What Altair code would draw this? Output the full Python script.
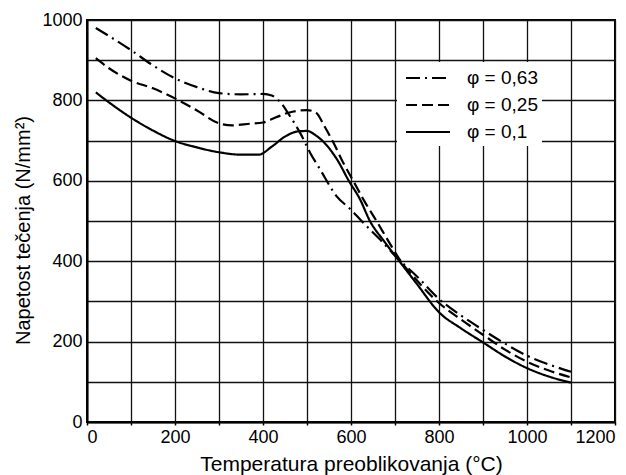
import altair as alt
import pandas as pd

# Temperature (°C) and yield stress (N/mm²)
temp_063 = [20, 50, 100, 150, 200, 250, 300, 350, 400, 420, 440, 460, 485, 507, 530, 567, 600, 624, 665, 705, 750, 800, 850, 900, 950, 1000, 1050, 1100]
val_063 = [980, 960, 925, 887, 855, 833, 818, 815, 816, 812, 795, 763, 718, 670, 628, 562, 528, 500, 455, 408, 362, 306, 265, 229, 195, 165, 143, 125]

temp_025 = [20, 50, 100, 150, 200, 250, 300, 330, 370, 400, 430, 460, 500, 520, 540, 560, 580, 605, 630, 658, 685, 712, 750, 800, 850, 900, 950, 1000, 1050, 1100]
val_025 = [905, 880, 849, 830, 805, 775, 743, 738, 742, 745, 758, 770, 776, 770, 735, 695, 650, 600, 550, 500, 450, 402, 352, 296, 255, 217, 180, 150, 128, 111]

temp_01 = [20, 50, 100, 150, 200, 250, 300, 350, 390, 420, 450, 480, 500, 520, 545, 570, 595, 620, 643, 675, 710, 750, 800, 850, 900, 950, 1000, 1050, 1100]
val_01 = [820, 795, 757, 725, 699, 683, 671, 665, 665, 685, 710, 723, 724, 713, 688, 650, 600, 555, 500, 450, 400, 343, 273, 233, 198, 163, 134, 113, 98]

series_names = ["φ = 0,63", "φ = 0,25", "φ = 0,1"]
x_ticks = list(range(0, 1201, 100))
y_ticks = list(range(0, 1001, 100))

rows = []
for name, xs, ys in zip(series_names, [temp_063, temp_025, temp_01], [val_063, val_025, val_01]):
    for x, y in zip(xs, ys):
        rows.append({"T": x, "sigma": y, "phi": name})
df = pd.DataFrame(rows)

FONT = "Liberation Sans"

chart = alt.Chart(df).mark_line(
    color="black", strokeWidth=2.2, interpolate="monotone"
).encode(
    x=alt.X("T:Q",
            scale=alt.Scale(domain=[0, 1200], nice=False, zero=False),
            axis=alt.Axis(values=x_ticks,
                          labelExpr="datum.value % 200 == 0 ? datum.label : ''",
                          format="d",
                          title="Temperatura preoblikovanja (°C)",
                          titleFontSize=21,
                          tickSize=3, labelPadding=3, titlePadding=7)),
    y=alt.Y("sigma:Q",
            scale=alt.Scale(domain=[0, 1000], nice=False),
            axis=alt.Axis(values=y_ticks,
                          labelExpr="datum.value % 200 == 0 ? datum.label : ''",
                          format="d",
                          title="Napetost tečenja (N/mm²)",
                          titleFontSize=20, titleY=210,
                          tickSize=0, labelPadding=5, titlePadding=8)),
    strokeDash=alt.StrokeDash(
        "phi:N",
        scale=alt.Scale(domain=series_names,
                        range=[[14, 5, 2, 5], [11, 5], [1, 0]]),
        legend=alt.Legend(
            title=None, orient="none", legendX=310, legendY=42,
            symbolType="M-2,0L2,0", symbolSize=484, symbolStrokeWidth=2,
            symbolStrokeColor="black", symbolFillColor="transparent",
            symbolOffset=15,
            labelFontSize=19, labelFont=FONT, labelColor="black", labelOffset=27,
            fillColor="white", padding=4, rowPadding=5,
        ),
    ),
    detail="phi:N",
).properties(
    width=528, height=402,
    autosize=alt.AutoSizeParams(type="none"),
    padding={"left": 79, "top": 12, "right": 3, "bottom": 53},
).configure_view(
    stroke="black", strokeWidth=2,
).configure_axis(
    grid=True, gridColor="#111", gridWidth=1.3, gridOpacity=1,
    domainColor="black", domainWidth=2,
    tickColor="black", tickWidth=1.5,
    labelFont=FONT, labelFontSize=18, labelColor="black",
    titleFont=FONT, titleFontSize=19, titleFontWeight="normal", titleColor="black",
)

chart.save("out.html", embed_options={"renderer": "svg", "actions": False})
